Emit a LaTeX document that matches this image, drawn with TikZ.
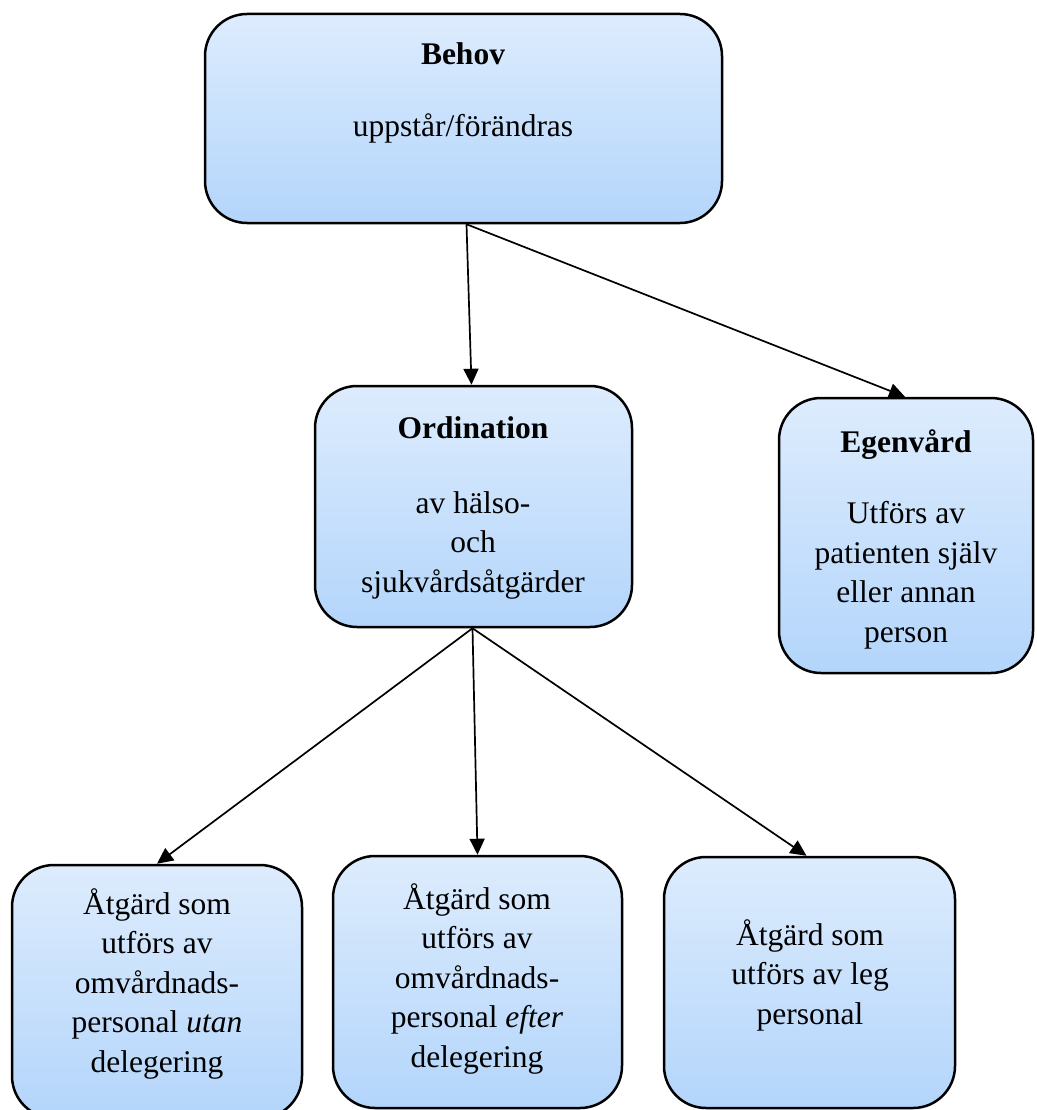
\documentclass[tikz,border=0pt]{standalone}
\usepackage{fontspec}
\setmainfont{Liberation Serif}
\usetikzlibrary{arrows.meta}
\definecolor{boxtop}{HTML}{DDECFD}
\definecolor{boxbot}{HTML}{B3D5FB}
\tikzset{
  box/.style={draw=black, line width=2.5pt, rounded corners=42pt, top color=boxtop, bottom color=boxbot, inner sep=0pt},
  lbl/.style={align=center, inner sep=0pt, font=\fontsize{31.5}{39.5}\selectfont, anchor=base},
  conn/.style={line width=1.7pt, -{Triangle[length=16pt,width=15pt]}}
}
\begin{document}
\begin{tikzpicture}[x=1pt,y=-1pt]
\useasboundingbox (0,0) rectangle (1036,1110);
\clip (0,0) rectangle (1036,1110);
\node[box, minimum width=517, minimum height=209] (behov) at (463.5,118.5) {};
\node[box, minimum width=317, minimum height=241] (ord) at (473.5,506.5) {};
\node[box, minimum width=254, minimum height=275] (egen) at (906,535.5) {};
\node[box, minimum width=290, minimum height=253] (utan) at (157,991.5) {};
\node[box, minimum width=289, minimum height=252] (efter) at (477.5,982) {};
\node[box, minimum width=291, minimum height=251] (leg) at (809.5,982.5) {};

\node[lbl] (behovT) at (463,65) {\textbf{Behov}};
\node[lbl] (behovS) at (463,137) {uppstår/förändras};
\node[lbl] (ordT) at (473,438) {\textbf{Ordination}};
\node[lbl] (ordS) at (473,592) {av hälso-\\och\\sjukvårdsåtgärder};
\node[lbl] (egenT) at (906,452) {\textbf{Egenvård}};
\node[lbl] (egenS) at (906,642) {Utförs av\\patienten själv\\eller annan\\person};
\node[lbl] (utanT) at (157,1072) {Åtgärd som\\utförs av\\omvårdnads-\\personal \textit{utan}\\delegering};
\node[lbl] (efterT) at (477,1067) {Åtgärd som\\utförs av\\omvårdnads-\\personal \textit{efter}\\delegering};
\node[lbl] (legT) at (810,1024) {Åtgärd som\\utförs av leg\\personal};

\draw[conn] ([xshift=3pt]behov.south) -- ([xshift=-2pt]ord.north);
\draw[conn] ([xshift=3pt]behov.south) -- ([xshift=-1pt]egen.north);
\draw[conn] ([xshift=-1pt]ord.south) -- (utan.north);
\draw[conn] ([xshift=-1pt]ord.south) -- (efter.north);
\draw[conn] ([xshift=-1pt]ord.south) -- ([xshift=-3pt]leg.north);
\end{tikzpicture}
\end{document}
